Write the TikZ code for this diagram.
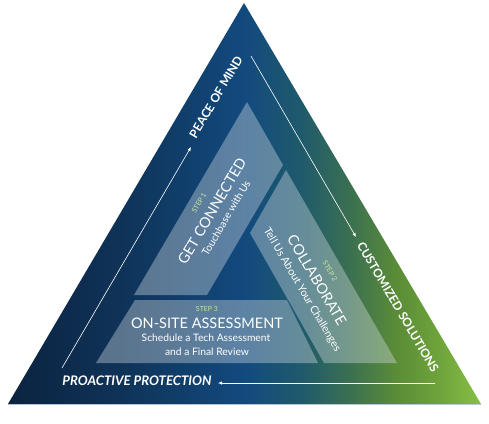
\documentclass[tikz,border=0pt]{standalone}
\usepackage{fontspec}
\setmainfont{Lato}
\usetikzlibrary{arrows.meta}
\definecolor{c0}{HTML}{0B2340}
\definecolor{c1}{HTML}{0F3358}
\definecolor{c2}{HTML}{124A7E}
\definecolor{c3}{HTML}{1F5A6C}
\definecolor{c4}{HTML}{3A6F52}
\definecolor{c5}{HTML}{5A8C37}
\definecolor{c6}{HTML}{70A63C}
\definecolor{c7}{HTML}{88BF45}
\definecolor{steplbl}{HTML}{C8E6A0}
\definecolor{panelc}{HTML}{D8E0E6}
\pgfdeclarehorizontalshading{trishade}{100bp}{color(0bp)=(c0); color(25bp)=(c0); color(37bp)=(c1); color(50bp)=(c2); color(56bp)=(c3); color(61bp)=(c4); color(66bp)=(c5); color(71bp)=(c6); color(75bp)=(c7); color(100bp)=(c7)}
\tikzset{
  panel/.style={fill=panelc, fill opacity=0.38},
  flow/.style={draw=white, line width=0.6pt, -{Latex[length=4pt,width=3.4pt]}},
  edgelbl/.style={text=white, font=\bfseries\fontsize{12}{14}\selectfont, inner sep=0pt},
  steplabel/.style={text=steplbl, font=\fontsize{7}{8}\selectfont, inner sep=0pt},
  bigtitle/.style={text=white, font=\fontsize{14.5}{16}\selectfont, inner sep=0pt},
  subtitle/.style={text=white, font=\fontsize{10.3}{12}\selectfont, inner sep=0pt}
}
\begin{document}
\begin{tikzpicture}[x=1pt,y=-1pt]
\useasboundingbox (0,0) rectangle (489,423);
% outer triangle
\path[shading=trishade] (244,3) -- (481,404) -- (8,404) -- cycle;
\draw[draw=white!55!c2, line width=0.8pt, opacity=0.6] (8,404) -- (481,404);
% panels
\path[panel] (247,102) -- (283,165) -- (207,295) -- (134,295) -- cycle;
\path[panel] (286,170) -- (397,363) -- (324,363) -- (250,233) -- cycle;
\path[panel] (96,363) -- (318,363) -- (287,300) -- (135,300) -- cycle;
% flow arrows
\coordinate (la) at (62,368);
\coordinate (lb) at (191,147);
\coordinate (ra) at (251,56);
\coordinate (rb) at (356,237);
\coordinate (ba) at (435,383);
\coordinate (bb) at (218,383);
\draw[flow] (la) -- (lb);
\draw[flow] (ra) -- (rb);
\draw[flow] (ba) -- (bb);
% edge labels
\node[edgelbl, rotate=59.5] (pom) at (216,97) {PEACE OF MIND};
\node[edgelbl, rotate=-59.5] (cs) at (398,307) {CUSTOMIZED SOLUTIONS};
\node[edgelbl, font=\bfseries\itshape\fontsize{13.2}{15}\selectfont] (pp) at (137,381) {PROACTIVE PROTECTION};
% step 1
\node[steplabel, rotate=59.5] (s1) at (199,203) {STEP 1};
\node[bigtitle, rotate=59.5] (t1) at (212,211) {GET CONNECTED};
\node[subtitle, rotate=59.5] (u1) at (226,218) {Touchbase with Us};
% step 2
\node[steplabel, rotate=-59.5] (s2) at (330,271) {STEP 2};
\node[bigtitle, rotate=-59.5] (t2) at (317,280) {COLLABORATE};
\node[subtitle, rotate=-59.5, font=\fontsize{10.8}{12}\selectfont] (u2) at (302,290) {Tell Us About Your Challenges};
% step 3
\node[steplabel] (s3) at (207,309) {STEP 3};
\node[bigtitle] (t3) at (207,323) {ON-SITE ASSESSMENT};
\node[subtitle] (u3) at (206,338) {Schedule a Tech Assessment};
\node[subtitle] (v3) at (207,352) {and a Final Review};
\end{tikzpicture}
\end{document}
